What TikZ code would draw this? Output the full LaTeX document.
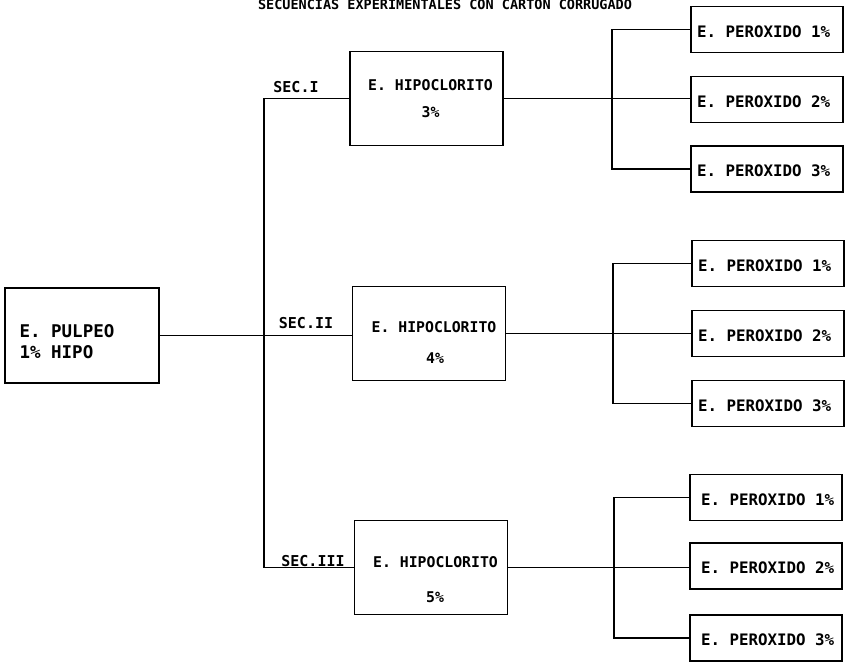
\documentclass[tikz,border=0pt]{standalone}
\usepackage{fontspec}
\setmonofont{DejaVu Sans Mono}
\begin{document}
\begin{tikzpicture}[x=1pt,y=-1pt,line width=1.1pt,
  box/.style={draw,rectangle,inner sep=0pt},
  hbox/.style={box,minimum width=153pt,minimum height=94pt},
  pbox/.style={box,minimum width=152pt,minimum height=46pt},
  htxt/.style={font=\ttfamily\bfseries\fontsize{14.8}{18}\selectfont,inner sep=0pt,anchor=center},
  ptxt/.style={font=\ttfamily\bfseries\fontsize{15.8}{18}\selectfont,inner sep=0pt,anchor=west},
  stxt/.style={font=\ttfamily\bfseries\fontsize{15}{18}\selectfont,inner sep=0pt,anchor=center},
  ttxt/.style={font=\ttfamily\bfseries\fontsize{13.5}{16}\selectfont,inner sep=0pt,anchor=base},
  conn/.style={draw,line width=1.1pt}]
\useasboundingbox (0,0) rectangle (845,664);

% title
\node[ttxt] (title) at (445,9) {SECUENCIAS EXPERIMENTALES CON CARTON CORRUGADO};

% pulpeo
\node[box,minimum width=154pt,minimum height=95pt] (pul) at (82,335.5) {};
\node[font=\ttfamily\bfseries\fontsize{17.5}{21}\selectfont,inner sep=0pt,anchor=west,align=left] (pult) at (19,341.5) {E. PULPEO\\1\% HIPO};

% hipoclorito boxes
\node[hbox] (h1) at (426.5,98.5) {};
\node[hbox] (h2) at (429,333.5) {};
\node[hbox] (h3) at (431,567.5) {};
\node[htxt] (h1a) at (430.5,85) {E. HIPOCLORITO};
\node[htxt] (h1b) at (430.5,112) {3\%};
\node[htxt] (h2a) at (434,327) {E. HIPOCLORITO};
\node[htxt] (h2b) at (435,358) {4\%};
\node[htxt] (h3a) at (435.5,562) {E. HIPOCLORITO};
\node[htxt] (h3b) at (435,597) {5\%};

% sec labels
\node[stxt] (s1) at (296,87) {SEC.I};
\node[stxt] (s2) at (306,323) {SEC.II};
\node[stxt] (s3) at (313,561) {SEC.III};

% peroxido boxes
\node[pbox] (p11) at (767,29.5) {};
\node[pbox] (p12) at (767,99.5) {};
\node[pbox] (p13) at (767,169) {};
\node[pbox] (p21) at (768,263.5) {};
\node[pbox] (p22) at (768,333.5) {};
\node[pbox] (p23) at (768,403.5) {};
\node[pbox] (p31) at (766,497.5) {};
\node[pbox] (p32) at (766,566) {};
\node[pbox] (p33) at (766,638) {};

\foreach \n/\t/\g in {p11/1/6,p12/2/6,p13/3/6,p21/1/6,p22/2/6,p23/3/6,p31/1/11,p32/2/11,p33/3/11}{
  \node[ptxt] (\n t) at ([xshift=\g pt,yshift=-2pt]\n.west) {E. PEROXIDO \t\%};
}

% branch coordinates
\coordinate (tr) at (264,0);
\coordinate (b1) at (612,0);
\coordinate (b2) at (613,0);
\coordinate (b3) at (614,0);

% connectors
\draw[conn] (pul.east) -- (pul.east -| h2.west);
\draw[conn] (h1.west) -- (h1.west -| tr) -- (h3.west -| tr) -- (h3.west);

\draw[conn] (h1.east) -- (h1.east -| p12.west);
\draw[conn] (p11.west) -- (p11.west -| b1) -- (p13.west -| b1) -- (p13.west);

\draw[conn] (h2.east) -- (p22.west);
\draw[conn] (p21.west) -- (p21.west -| b2) -- (p23.west -| b2) -- (p23.west);

\draw[conn] (h3.east) -- (h3.east -| p32.west);
\draw[conn] (p31.west) -- (p31.west -| b3) -- (p33.west -| b3) -- (p33.west);
\end{tikzpicture}
\end{document}
